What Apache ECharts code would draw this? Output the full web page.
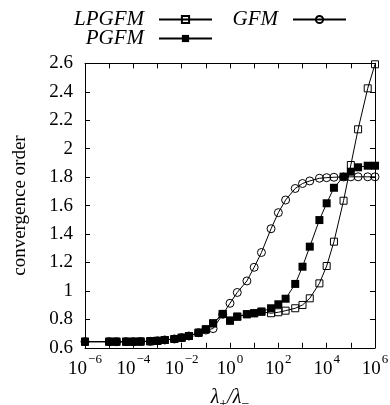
<!DOCTYPE html>
<html>
<head>
<meta charset="utf-8">
<script src="https://cdn.jsdelivr.net/npm/echarts@6/dist/echarts.min.js"></script>
<style>html,body{margin:0;padding:0;background:#fff}#c{width:390px;height:405px}</style>
</head>
<body>
<div id="c"></div>
<script>
const lambdaRatio = [1e-6,1e-5,2e-5,5e-5,1e-4,2e-4,5e-4,1e-3,2e-3,5e-3,1e-2,2e-2,5e-2,0.1,0.2,0.5,1,2,5,10,20,50,100,200,500,1e3,2e3,5e3,1e4,2e4,5e4,1e5,2e5,5e5,1e6];
const pgfm = [0.643,0.643,0.643,0.643,0.643,0.644,0.646,0.649,0.655,0.662,0.671,0.683,0.706,0.730,
  0.772,0.838,0.791,0.819,0.836,0.843,0.854,0.878,0.906,0.945,1.049,1.170,1.311,1.498,1.616,1.725,1.803,1.838,1.869,1.880,1.880];
const lpgfm = [0.643,0.643,0.643,0.643,0.643,0.644,0.646,0.649,0.655,0.662,0.671,0.683,0.706,0.730,
  0.772,0.838,0.791,0.819,0.836,0.843,0.854,
  0.843,0.850,0.861,0.878,0.901,0.948,1.053,1.175,1.346,1.634,1.885,2.136,2.424,2.593];
const gfm = [0.643,0.643,0.643,0.643,0.643,0.644,0.646,0.649,0.655,0.662,0.671,0.683,0.706,0.725,
  0.735,0.835,0.913,0.989,1.070,1.166,1.270,1.437,1.550,1.639,1.720,1.755,1.773,1.792,1.796,1.799,1.801,1.802,1.802,1.802,1.802];
const seriesNames = ['LPGFM','GFM','PGFM'];
const yTitle = 'convergence order';

const FONT = 'Liberation Serif';
const pairs = ys => lambdaRatio.map((x,i)=>[x, ys[i]]);
const chart = echarts.init(document.getElementById('c'), null, {renderer:'canvas'});

const tickStyle = {show:true, inside:true, length:5, lineStyle:{color:'#000', width:1}};
const lineSty = {show:true, lineStyle:{color:'#000', width:1}};
const hollow = {color:'rgba(0,0,0,0)', borderColor:'#000', borderWidth:1};

const legendBase = {
  orient:'horizontal', align:'right', itemWidth:53, itemHeight:9,
  textStyle:{fontFamily:FONT, fontStyle:'italic', fontSize:21, color:'#000', padding:[0,10,0,0]},
  selectedMode:false
};

chart.setOption({
  animation:false,
  backgroundColor:'#fff',
  grid:{left:85, right:15, top:63.3, bottom:57.2, containLabel:false, outerBoundsMode:'none'},
  legend:[
    Object.assign({}, legendBase, {data:['LPGFM'], right:172, top:4}),
    Object.assign({}, legendBase, {data:['GFM'], right:38, top:4}),
    Object.assign({}, legendBase, {data:['PGFM'], right:172, top:23})
  ],
  xAxis:[{
    type:'log', logBase:10, min:1e-6, max:1e6, interval:1,
    axisLine:lineSty, axisTick:tickStyle, splitLine:{show:false}, minorTick:{show:false},
    axisLabel:{margin:5, color:'#000',
      formatter:function(v){ const e=Math.round(Math.log10(v)); if (e%2!==0) return ''; return '{b|10}{s|'+(e<0?'\u2212':'')+Math.abs(e)+'}'; },
      rich:{b:{fontFamily:FONT, fontSize:19, lineHeight:26, verticalAlign:'bottom', color:'#000'},
            s:{fontFamily:FONT, fontSize:13, lineHeight:13, verticalAlign:'top', color:'#000', padding:[0,0,0,1]}}
    },
    name:'{a|\u03bb}{sub|+}{a|/\u03bb}{sub|\u2212}', nameLocation:'middle', nameGap:40,
    nameTextStyle:{rich:{a:{fontFamily:FONT, fontStyle:'italic', fontSize:20, lineHeight:24, verticalAlign:'top', color:'#000'},
                         sub:{fontFamily:FONT, fontSize:14, lineHeight:14, verticalAlign:'bottom', color:'#000'}}}
  },{
    type:'log', logBase:10, min:1e-6, max:1e6, interval:1, position:'top',
    axisLine:lineSty, axisTick:tickStyle, axisLabel:{show:false}, splitLine:{show:false}
  }],
  yAxis:[{
    type:'value', min:0.6, max:2.6, interval:0.2,
    axisLine:lineSty, axisTick:tickStyle, splitLine:{show:false},
    axisLabel:{margin:12, color:'#000', fontFamily:FONT, fontSize:19},
    name:yTitle, nameLocation:'middle', nameGap:55,
    nameTextStyle:{fontFamily:FONT, fontSize:19, color:'#000'}
  },{
    type:'value', min:0.6, max:2.6, interval:0.2, position:'right',
    axisLine:lineSty, axisTick:tickStyle, axisLabel:{show:false}, splitLine:{show:false}
  }],
  series:[
    {name:seriesNames[0], type:'line', data:pairs(lpgfm), symbol:'rect', symbolSize:7,
     itemStyle:hollow, lineStyle:{color:'#000', width:1}, z:2},
    {name:seriesNames[1], type:'line', data:pairs(gfm), symbol:'circle', symbolSize:8,
     itemStyle:hollow, lineStyle:{color:'#000', width:1}, z:3},
    {name:seriesNames[2], type:'line', data:pairs(pgfm), symbol:'rect', symbolSize:8,
     itemStyle:{color:'#000'}, lineStyle:{color:'#000', width:1}, z:4}
  ]
});
</script>
</body>
</html>
